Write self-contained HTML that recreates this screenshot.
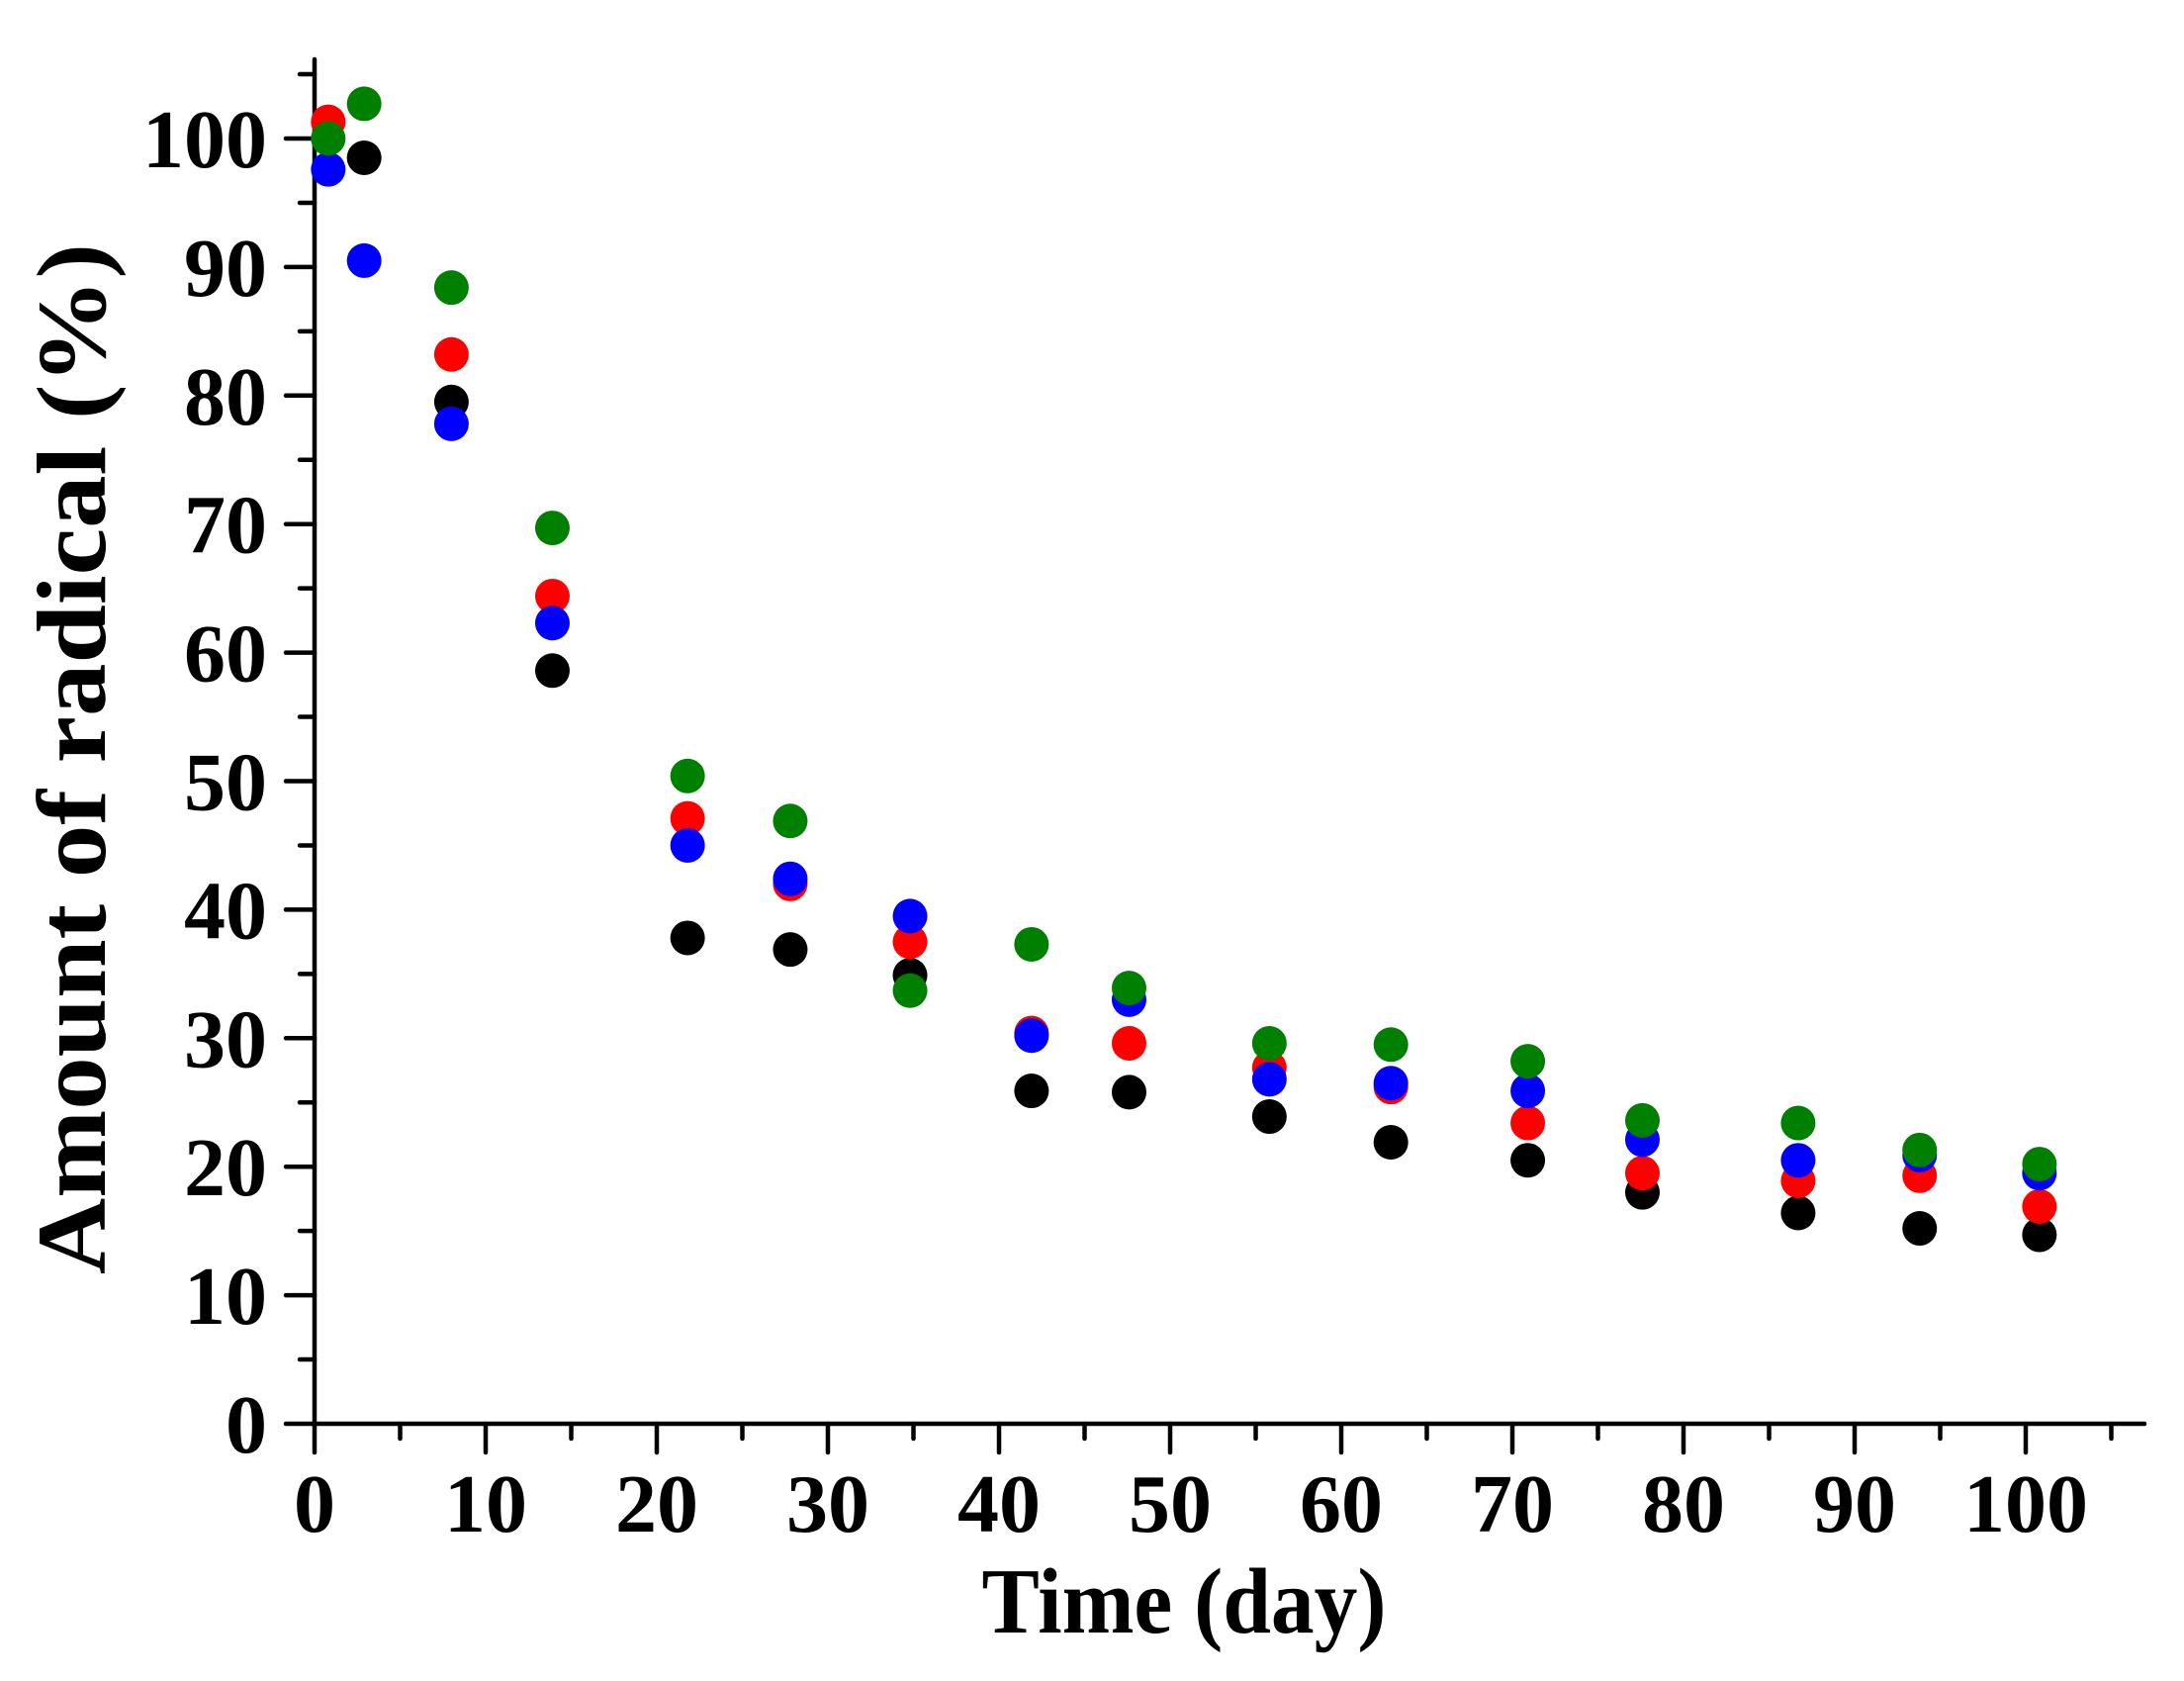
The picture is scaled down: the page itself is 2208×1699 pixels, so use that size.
<!DOCTYPE html>
<html><head><meta charset="utf-8"><style>
html,body{margin:0;padding:0;background:#fff;}
svg{display:block;}
text{font-family:"Liberation Serif",serif;font-weight:bold;fill:#000;}
</style></head><body>
<svg id="s" width="2208" height="1699" viewBox="0 0 2208 1699" xmlns="http://www.w3.org/2000/svg">
<g id="ax" stroke="#000" stroke-width="4.5" stroke-linecap="round" fill="none">
<line x1="318" y1="60" x2="318" y2="1441"/>
<line x1="316" y1="1439" x2="2168" y2="1439"/>
</g>
<g id="pts"></g>
<g id="lbl" font-size="84"></g>
<text x="1197" y="1650" font-size="94" text-anchor="middle" textLength="409" lengthAdjust="spacingAndGlyphs">Time (day)</text>
<text transform="translate(106,767) rotate(-90)" font-size="100" text-anchor="middle" textLength="1042" lengthAdjust="spacingAndGlyphs">Amount of radical (%)</text>
</svg>
<script>
var NS="http://www.w3.org/2000/svg";
function X(d){return 318+17.3*d;}function Y(v){return 1439-12.99*v;}
var ax=document.getElementById('ax'),lb=document.getElementById('lbl'),pts=document.getElementById('pts');
function ln(a,b,c,d){var l=document.createElementNS(NS,'line');l.setAttribute('x1',a);l.setAttribute('y1',b);l.setAttribute('x2',c);l.setAttribute('y2',d);ax.appendChild(l);}
function tx(x,y,t,anc){var e=document.createElementNS(NS,'text');e.setAttribute('x',x);e.setAttribute('y',y);e.setAttribute('text-anchor',anc);e.textContent=t;lb.appendChild(e);}
for(var v=0;v<=105;v+=5){var y=Y(v);ln(318,y,v%10==0?289:303,y);if(v%10==0)tx(270,y+29,String(v),'end');}
for(var d=0;d<=105;d+=5){var x=X(d);ln(x,1439,x,d%10==0?1468:1454);if(d%10==0)tx(x,1548,String(d),'middle');}
var days=[0.8,2.9,8,13.9,21.8,27.8,34.8,41.9,47.6,55.8,62.9,70.9,77.6,86.7,93.8,100.8];
var S=[["#000",[null,98.5,79.5,58.6,37.8,36.9,34.9,25.9,25.8,23.9,21.9,20.5,18.0,16.4,15.2,14.7]],
["#ff0000",[101.3,null,83.2,64.4,47.1,42.0,37.5,30.4,29.6,27.7,26.2,23.4,19.5,18.9,19.3,16.9]],
["#0000ff",[97.6,90.5,77.8,62.3,45.0,42.4,39.5,30.2,33.0,26.8,26.5,25.9,22.1,20.5,20.9,19.5]],
["#008000",[100,102.7,88.4,69.7,50.4,46.9,33.7,37.3,33.9,29.6,29.5,28.2,23.6,23.4,21.3,20.2]]];
S.forEach(function(s){s[1].forEach(function(v,i){if(v===null)return;var c=document.createElementNS(NS,'circle');c.setAttribute('cx',X(days[i]));c.setAttribute('cy',Y(v));c.setAttribute('r',17.5);c.setAttribute('fill',s[0]);pts.appendChild(c);});});
</script>
</body></html>
